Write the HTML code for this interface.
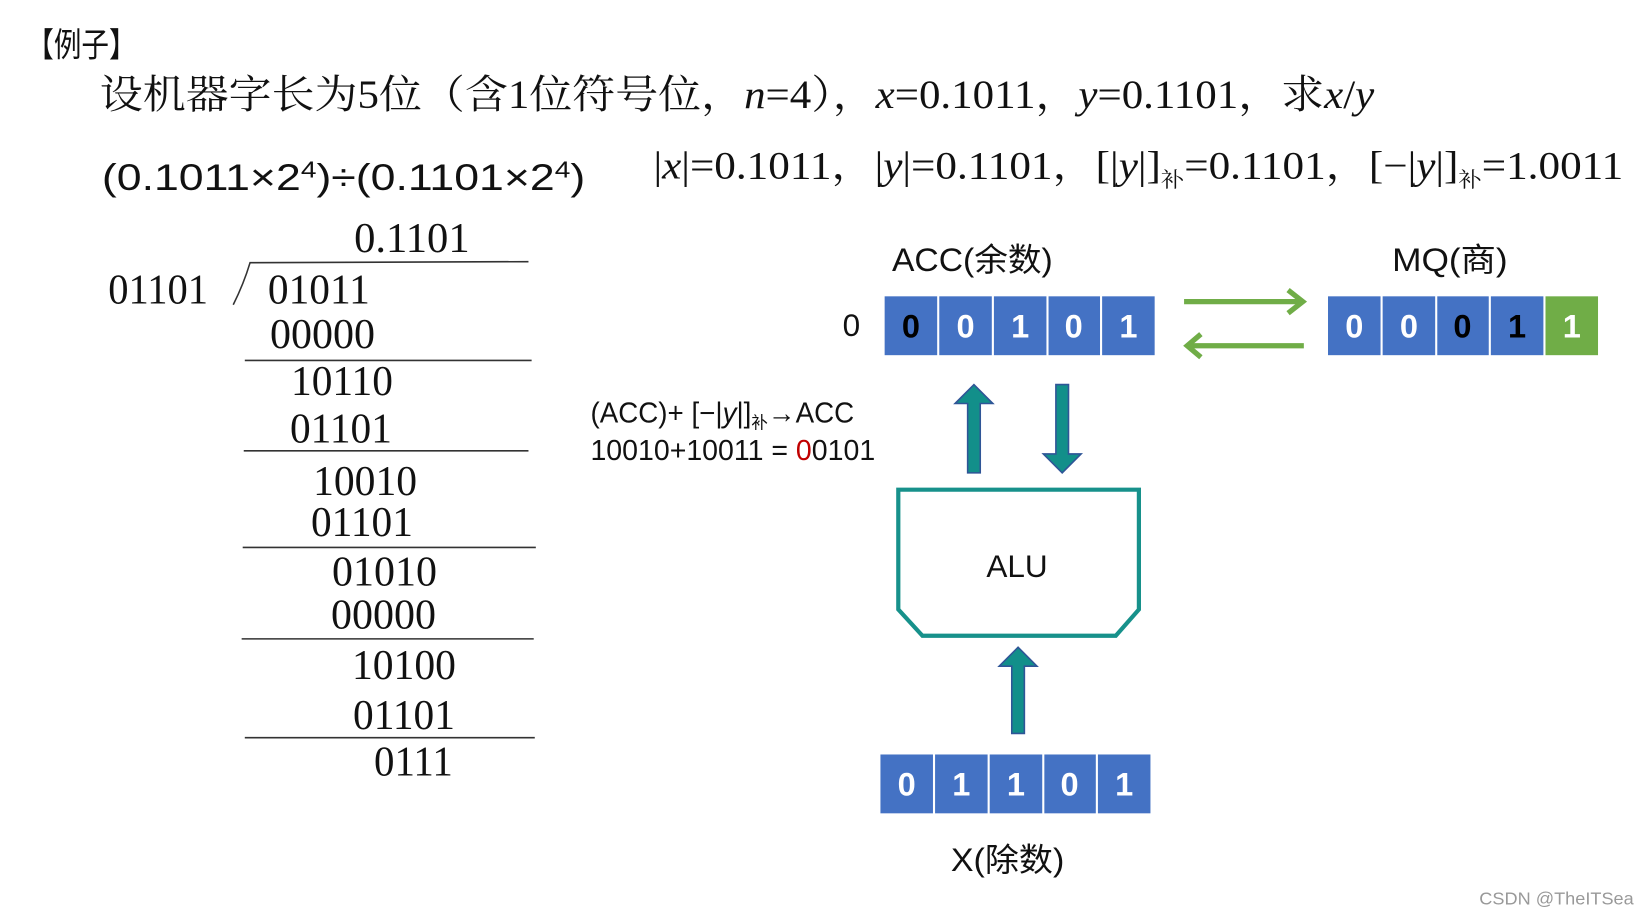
<!DOCTYPE html>
<html><head><meta charset="utf-8"><style>
html,body{margin:0;padding:0;background:#fff;width:1639px;height:910px;overflow:hidden}
svg{display:block}
.se{font-family:"Liberation Serif","Noto Serif CJK SC",serif;fill:#111}
.sa{font-family:"Liberation Sans","Noto Sans CJK SC",sans-serif;fill:#111}
.b{font-family:"Liberation Sans",sans-serif;font-weight:bold;font-size:31px;text-anchor:middle}
</style></head><body>
<svg width="1639" height="910" viewBox="0 0 1560 866" preserveAspectRatio="none" xmlns="http://www.w3.org/2000/svg">
<text class="sa" x="25" y="54" font-size="32" textLength="105" lengthAdjust="spacingAndGlyphs">【例子】</text>
<text class="se" x="95" y="103" font-size="38" textLength="1213" lengthAdjust="spacingAndGlyphs">设机器字长为5位（含1位符号位，<tspan font-style="italic">n</tspan>=4），<tspan font-style="italic">x</tspan>=0.1011，<tspan font-style="italic">y</tspan>=0.1101，求<tspan font-style="italic">x</tspan>/<tspan font-style="italic">y</tspan></text>
<text class="sa" x="97" y="181" font-size="35" textLength="460" lengthAdjust="spacingAndGlyphs">(0.1011×2<tspan font-size="22" dy="-12">4</tspan><tspan dy="12">)÷(0.1101×2</tspan><tspan font-size="22" dy="-12">4</tspan><tspan dy="12">)</tspan></text>
<text class="se" x="622" y="170" font-size="37" textLength="923" lengthAdjust="spacingAndGlyphs">|<tspan font-style="italic">x</tspan>|=0.1011，|<tspan font-style="italic">y</tspan>|=0.1101，[|<tspan font-style="italic">y</tspan>|]<tspan font-size="20" dy="8">补</tspan><tspan dy="-8">=0.1101，[−|</tspan><tspan font-style="italic">y</tspan>|]<tspan font-size="20" dy="8">补</tspan><tspan dy="-8">=1.0011</tspan></text>
<g class="se" font-size="40">
<text x="337" y="240" textLength="110" lengthAdjust="spacingAndGlyphs">0.1101</text>
<text x="103" y="289" textLength="95" lengthAdjust="spacingAndGlyphs">01101</text>
<text x="255" y="289" textLength="97" lengthAdjust="spacingAndGlyphs">01011</text>
<text x="257" y="331" textLength="100" lengthAdjust="spacingAndGlyphs">00000</text>
<text x="277" y="376" textLength="97" lengthAdjust="spacingAndGlyphs">10110</text>
<text x="276" y="421" textLength="97" lengthAdjust="spacingAndGlyphs">01101</text>
<text x="298" y="471" textLength="99" lengthAdjust="spacingAndGlyphs">10010</text>
<text x="296" y="510" textLength="97" lengthAdjust="spacingAndGlyphs">01101</text>
<text x="316" y="557" textLength="100" lengthAdjust="spacingAndGlyphs">01010</text>
<text x="315" y="598" textLength="100" lengthAdjust="spacingAndGlyphs">00000</text>
<text x="335" y="646" textLength="99" lengthAdjust="spacingAndGlyphs">10100</text>
<text x="336" y="694" textLength="97" lengthAdjust="spacingAndGlyphs">01101</text>
<text x="356" y="738" textLength="75" lengthAdjust="spacingAndGlyphs">0111</text>
</g>
<g stroke="#333" stroke-width="1.5" fill="none">
<path d="M222 290 Q232 270 238 250 L503 249"/>
<line x1="233" y1="343" x2="506" y2="343"/>
<line x1="232" y1="429" x2="503" y2="429"/>
<line x1="231" y1="521" x2="510" y2="521"/>
<line x1="230" y1="608" x2="508" y2="608"/>
<line x1="233" y1="702" x2="509" y2="702"/>
</g>
<text class="sa" x="562" y="402" font-size="27" textLength="251" lengthAdjust="spacingAndGlyphs">(ACC)+ [−|<tspan font-style="italic">y</tspan>|]<tspan font-size="16" dy="6">补</tspan><tspan dy="-6">→ACC</tspan></text>
<text class="sa" x="562" y="438" font-size="27" textLength="271" lengthAdjust="spacingAndGlyphs">10010+10011 = <tspan fill="#c00000">0</tspan>0101</text>
<text class="sa" x="849" y="258" font-size="31" textLength="153" lengthAdjust="spacingAndGlyphs">ACC(余数)</text>
<text class="sa" x="1325" y="258" font-size="31" textLength="110" lengthAdjust="spacingAndGlyphs">MQ(商)</text>
<text class="sa" x="802" y="320" font-size="30">0</text>
<g fill="#4472c4">
<rect x="842" y="282" width="50" height="56"/><rect x="894" y="282" width="50" height="56"/><rect x="946" y="282" width="50" height="56"/><rect x="998" y="282" width="49" height="56"/><rect x="1049" y="282" width="50" height="56"/>
<rect x="1264" y="282" width="50" height="56"/><rect x="1316" y="282" width="50" height="56"/><rect x="1368" y="282" width="49" height="56"/><rect x="1419" y="282" width="50" height="56"/>
<rect x="838" y="718" width="50" height="56"/><rect x="890" y="718" width="50" height="56"/><rect x="942" y="718" width="50" height="56"/><rect x="994" y="718" width="49" height="56"/><rect x="1045" y="718" width="50" height="56"/>
</g>
<rect x="1471" y="282" width="50" height="56" fill="#70ad47"/>
<g class="b">
<text x="867" y="321" fill="#000">0</text><text x="919" y="321" fill="#fff">0</text><text x="971" y="321" fill="#fff">1</text><text x="1022" y="321" fill="#fff">0</text><text x="1074" y="321" fill="#fff">1</text>
<text x="1289" y="321" fill="#fff">0</text><text x="1341" y="321" fill="#fff">0</text><text x="1392" y="321" fill="#000">0</text><text x="1444" y="321" fill="#000">1</text><text x="1496" y="321" fill="#fff">1</text>
<text x="863" y="757" fill="#fff">0</text><text x="915" y="757" fill="#fff">1</text><text x="967" y="757" fill="#fff">1</text><text x="1018" y="757" fill="#fff">0</text><text x="1070" y="757" fill="#fff">1</text>
</g>
<g stroke="#70ad47" stroke-width="5" fill="none">
<line x1="1127" y1="287" x2="1240" y2="287"/><polyline points="1226,276 1240,287 1226,298"/>
<line x1="1130" y1="329" x2="1241" y2="329"/><polyline points="1143,318 1130,329 1143,340"/>
</g>
<g fill="#128f8a" stroke="#2f5597" stroke-width="1.5">
<polygon points="921,450 933,450 933,384 945,384 927,366 909,384 921,384"/>
<polygon points="1005,366 1017,366 1017,432 1029,432 1011,450 993,432 1005,432"/>
<polygon points="963,698 975,698 975,634 987,634 969,616 951,634 963,634"/>
</g>
<polygon points="855,466 1084,466 1084,580 1062,605 878,605 855,580" fill="none" stroke="#17918b" stroke-width="4"/>
<text class="sa" x="968" y="549" font-size="30" text-anchor="middle">ALU</text>
<text class="sa" x="905" y="829" font-size="31" textLength="108" lengthAdjust="spacingAndGlyphs">X(除数)</text>
<text class="sa" x="1408" y="861" font-size="17" fill="#999" style="fill:#999" textLength="147" lengthAdjust="spacingAndGlyphs">CSDN @TheITSea</text>
</svg>
</body></html>
